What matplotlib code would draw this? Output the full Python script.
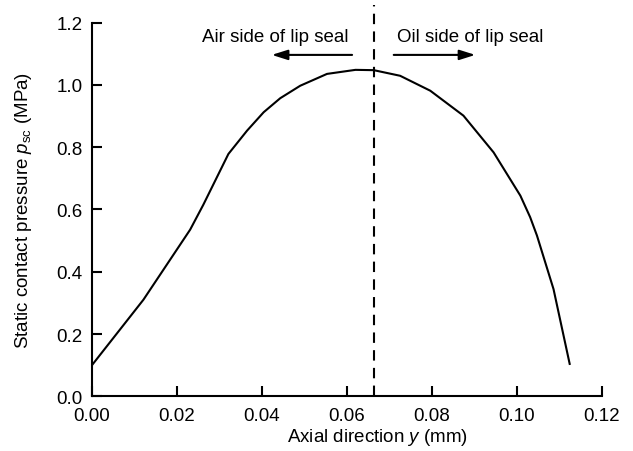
import matplotlib
matplotlib.use("Agg")
import matplotlib.pyplot as plt

plt.rcParams['font.family'] = ['Liberation Sans', 'DejaVu Sans']
plt.rcParams['mathtext.fontset'] = 'custom'
plt.rcParams['mathtext.rm'] = 'Liberation Sans'
plt.rcParams['mathtext.it'] = 'Liberation Sans:italic'

# data
axial_y = [0.0, 0.0121, 0.0231, 0.0262, 0.0321, 0.0365, 0.0404, 0.0443, 0.049, 0.0553,
           0.062, 0.0663, 0.0725, 0.0796, 0.0874, 0.0945, 0.1008, 0.1031, 0.1047,
           0.1086, 0.1124]
pressure = [0.10, 0.31, 0.535, 0.615, 0.778, 0.853, 0.912, 0.957, 0.997, 1.035,
            1.048, 1.047, 1.029, 0.981, 0.901, 0.783, 0.644, 0.575, 0.516, 0.344, 0.104]
peak_x = 0.0663
xticks = [0.00, 0.02, 0.04, 0.06, 0.08, 0.10, 0.12]
yticks = [0.0, 0.2, 0.4, 0.6, 0.8, 1.0, 1.2]

FS = 13.5

fig = plt.figure(figsize=(6.33, 4.52), dpi=100)
ax = fig.add_axes([0.1453, 0.121, 0.951 - 0.1453, 0.948 - 0.121])

ax.plot(axial_y, pressure, color='black', lw=1.5)
ax.plot([peak_x, peak_x], [0, 1.256], color='black', lw=1.5,
        linestyle=(0, (5, 3.5)), clip_on=False)

ax.set_xlim(0, 0.12)
ax.set_ylim(0, 1.2)
ax.set_xticks(xticks)
ax.set_xticklabels([f"{v:.2f}" for v in xticks])
ax.set_yticks(yticks)
ax.set_yticklabels([f"{v:.1f}" for v in yticks])

for s in ['top', 'right']:
    ax.spines[s].set_visible(False)
for s in ['left', 'bottom']:
    ax.spines[s].set_linewidth(1.5)

ax.tick_params(axis='both', direction='in', length=7, width=1.5, labelsize=FS)
ax.tick_params(axis='x', pad=8)
ax.tick_params(axis='y', pad=7)

ax.set_xlabel(r"Axial direction $y$ (mm)", fontsize=FS)
ax.xaxis.set_label_coords(0.559, -0.080)
ax.set_ylabel(r"Static contact pressure $p_{\mathrm{sc}}$ (MPa)", fontsize=FS)
ax.yaxis.set_label_coords(-0.113, 0.5)

arrow_kw = dict(arrowstyle='-|>,head_length=0.95,head_width=0.3', color='black', lw=1.5,
                shrinkA=0, shrinkB=0)
ax.annotate('', xy=(0.0423, 1.096), xytext=(0.0612, 1.096), arrowprops=arrow_kw,
            annotation_clip=False)
ax.annotate('', xy=(0.0902, 1.096), xytext=(0.0710, 1.096), arrowprops=arrow_kw,
            annotation_clip=False)

ax.text(0.0431, 1.141, "Air side of lip seal", ha='center', va='baseline', fontsize=FS)
ax.text(0.0891, 1.141, "Oil side of lip seal", ha='center', va='baseline', fontsize=FS)

fig.savefig("out.png", dpi=100)
